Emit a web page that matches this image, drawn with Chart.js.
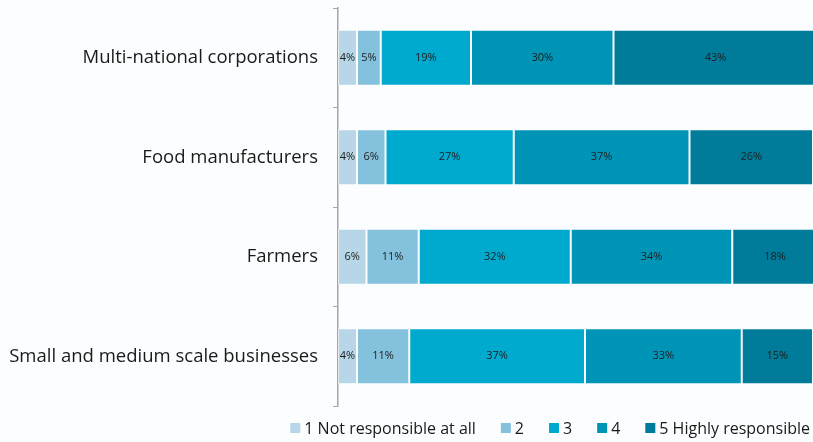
<!DOCTYPE html>
<html>
<head>
<meta charset="utf-8">
<script src="https://cdn.jsdelivr.net/npm/chart.js@4"></script>
<style>
  html, body { margin: 0; padding: 0; background: #fbfdfe; }
  #wrap { width: 813px; height: 442px; }
</style>
</head>
<body>
<div id="wrap"><canvas id="respChart" width="813" height="442"></canvas></div>
<script>
const categories = ['Multi-national corporations', 'Food manufacturers', 'Farmers', 'Small and medium scale businesses'];
const seriesNames = ['1 Not responsible at all', '2', '3', '4', '5 Highly responsible'];
const level1 = [4, 4, 6, 4];
const level2 = [5, 6, 11, 11];
const level3 = [19, 27, 32, 37];
const level4 = [30, 37, 34, 33];
const level5 = [43, 26, 18, 15];
const colors = ['#b7d6e7', '#84c1dc', '#00a9ce', '#0094b6', '#007b99'];

const values = [level1, level2, level3, level4, level5];
const FONT = '"Open Sans", sans-serif';

// percent text in the middle of each segment
const segmentLabels = {
  id: 'segmentLabels',
  afterDatasetsDraw(chart) {
    const ctx = chart.ctx;
    ctx.save();
    ctx.font = '11px ' + FONT;
    ctx.fillStyle = '#1e1e1e';
    ctx.textAlign = 'center';
    ctx.textBaseline = 'middle';
    chart.data.datasets.forEach((ds, i) => {
      chart.getDatasetMeta(i).data.forEach((bar, j) => {
        const cx = Math.min((bar.x + bar.base) / 2, chart.chartArea.right);
        ctx.fillText(ds.data[j] + '%', cx, bar.y);
      });
    });
    ctx.restore();
  }
};

// compact legend row along the bottom, right aligned
const bottomLegend = {
  id: 'bottomLegend',
  afterDraw(chart) {
    const ctx = chart.ctx;
    const items = chart.legend.legendItems;
    const box = 10, gap = 4, spacing = 25, y = 428;
    ctx.save();
    ctx.font = '16px ' + FONT;
    ctx.textBaseline = 'middle';
    const widths = items.map(it => box + gap + ctx.measureText(it.text).width);
    let x = 810 - widths.reduce((a, b) => a + b, 0) - spacing * (items.length - 1);
    items.forEach((it, i) => {
      ctx.fillStyle = it.fillStyle;
      ctx.fillRect(x, y - box / 2, box, box);
      ctx.fillStyle = '#1a1a1a';
      ctx.fillText(it.text, x + box + gap, y + 1);
      x += widths[i] + spacing;
    });
    ctx.restore();
  }
};

new Chart(document.getElementById('respChart'), {
  type: 'bar',
  data: {
    labels: categories,
    datasets: seriesNames.map((name, i) => ({
      label: name,
      data: values[i],
      backgroundColor: colors[i],
      borderColor: 'rgba(255,255,255,0.55)',
      borderWidth: 1,
      borderSkipped: false,
      barPercentage: 0.565,
      categoryPercentage: 1
    }))
  },
  options: {
    indexAxis: 'y',
    responsive: false,
    animation: false,
    layout: { padding: { top: 8, right: 0, left: 0, bottom: 36 } },
    scales: {
      x: { stacked: true, min: 0, max: 100, display: false },
      y: {
        stacked: true,
        border: { display: true, color: '#a6a6a6', width: 1.5 },
        grid: { drawOnChartArea: false, drawTicks: true, tickLength: 5, color: '#a6a6a6', offset: true },
        ticks: { color: '#1a1a1a', padding: 15, font: { family: FONT, size: 18.5 } },
        afterFit(scale) {
          scale.width = 338;
          scale.paddingTop = 0;
          scale.paddingBottom = 0;
        }
      }
    },
    plugins: {
      tooltip: { enabled: false },
      legend: { display: false }
    }
  },
  plugins: [segmentLabels, bottomLegend]
});
</script>
</body>
</html>
